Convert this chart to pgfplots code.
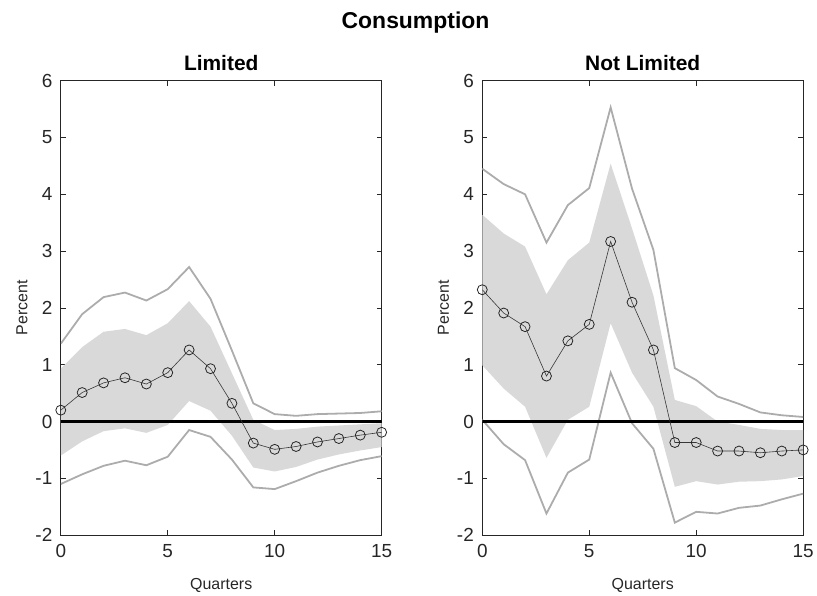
\documentclass[border=0pt]{standalone}
\usepackage{pgfplots}
\pgfplotsset{compat=1.18}
\usepackage{pgfplotstable}
\usepgfplotslibrary{fillbetween}
\usepackage{fontspec}
\setmainfont{Liberation Sans}

\definecolor{band}{RGB}{217,217,217}
\definecolor{outer}{RGB}{172,172,172}
\definecolor{axc}{RGB}{38,38,38}
\definecolor{mid}{RGB}{55,55,55}

% x: quarter, mid: point estimate, uo/lo: outer bands, ub/lb: shaded band
\pgfplotstableread{
x mid uo ub lb lo
0 0.20 1.37 0.93 -0.60 -1.10
1 0.51 1.89 1.31 -0.35 -0.93
2 0.68 2.19 1.58 -0.17 -0.78
3 0.77 2.27 1.63 -0.12 -0.69
4 0.66 2.13 1.52 -0.20 -0.77
5 0.86 2.33 1.73 -0.06 -0.62
6 1.26 2.72 2.12 0.36 -0.15
7 0.93 2.16 1.67 0.19 -0.27
8 0.32 1.25 0.85 -0.25 -0.67
9 -0.38 0.32 0.03 -0.81 -1.16
10 -0.49 0.13 -0.15 -0.88 -1.19
11 -0.44 0.10 -0.13 -0.80 -1.05
12 -0.36 0.13 -0.09 -0.67 -0.90
13 -0.30 0.14 -0.07 -0.58 -0.78
14 -0.24 0.15 -0.05 -0.51 -0.68
15 -0.19 0.18 -0.03 -0.45 -0.61
}\limited

\pgfplotstableread{
x mid uo ub lb lo
0 2.32 4.45 3.64 0.99 0.03
1 1.91 4.18 3.31 0.58 -0.40
2 1.67 4.00 3.08 0.26 -0.68
3 0.80 3.15 2.24 -0.64 -1.62
4 1.42 3.81 2.84 0.03 -0.90
5 1.71 4.11 3.15 0.26 -0.67
6 3.17 5.53 4.54 1.73 0.86
7 2.10 4.10 3.40 0.86 -0.03
8 1.26 3.02 2.22 0.26 -0.48
9 -0.37 0.94 0.38 -1.15 -1.78
10 -0.37 0.73 0.27 -1.05 -1.59
11 -0.52 0.44 0.00 -1.11 -1.62
12 -0.52 0.31 -0.06 -1.06 -1.52
13 -0.55 0.16 -0.13 -1.05 -1.48
14 -0.52 0.11 -0.15 -1.02 -1.37
15 -0.50 0.08 -0.15 -0.96 -1.27
}\notlimited

\pgfplotsset{irf/.style={
    scale only axis, width=322pt, height=456pt, anchor=south west,
    xmin=0, xmax=15, ymin=-2, ymax=6,
    xtick={0,5,10,15}, ytick={-2,-1,0,1,2,3,4,5,6},
    tick align=inside, major tick length=5pt,
    axis line style={axc, line width=0.8pt},
    every tick/.style={axc, line width=0.8pt},
    tick label style={font=\fontsize{19}{22}\selectfont, text=axc},
    x tick label style={yshift=-6pt},
    y tick label style={xshift=-5pt},
    /pgf/number format/assume math mode=true,
    xlabel=Quarters, ylabel=Percent,
    label style={font=\fontsize{16}{19}\selectfont, text=axc},
    x label style={at={(axis description cs:0.5,-0.11)}, anchor=center},
    y label style={at={(axis description cs:-0.121,0.5)}, anchor=center},
    title style={font=\bfseries\fontsize{21}{24}\selectfont, anchor=south, yshift=1pt},
}}

\begin{document}
\begin{tikzpicture}

\begin{axis}[irf, at={(61pt,58pt)}, title={Limited}]
  \addplot[name path=ubL, draw=none, forget plot] table[x=x, y=ub] {\limited};
  \addplot[name path=lbL, draw=none, forget plot] table[x=x, y=lb] {\limited};
  \addplot[band] fill between[of=ubL and lbL];
  \addplot[outer, line width=1.8pt] table[x=x, y=uo] {\limited};
  \addplot[outer, line width=1.8pt] table[x=x, y=lo] {\limited};
  \addplot[black, line width=2.2pt] coordinates {(0,0) (15,0)};
  \addplot[mid, line width=0.6pt, mark=o, mark size=5pt,
    mark options={line width=0.8pt, draw=axc}] table[x=x, y=mid] {\limited};
\end{axis}

\begin{axis}[irf, at={(484pt,58pt)}, title={Not Limited}]
  \addplot[name path=ubR, draw=none, forget plot] table[x=x, y=ub] {\notlimited};
  \addplot[name path=lbR, draw=none, forget plot] table[x=x, y=lb] {\notlimited};
  \addplot[band] fill between[of=ubR and lbR];
  \addplot[outer, line width=1.8pt] table[x=x, y=uo] {\notlimited};
  \addplot[outer, line width=1.8pt] table[x=x, y=lo] {\notlimited};
  \addplot[black, line width=2.2pt] coordinates {(0,0) (15,0)};
  \addplot[mid, line width=0.6pt, mark=o, mark size=5pt,
    mark options={line width=0.8pt, draw=axc}] table[x=x, y=mid] {\notlimited};
\end{axis}

\node[font=\bfseries\fontsize{23}{26}\selectfont, text=black] at (417pt,572pt) {Consumption};
\path (0pt,0pt) rectangle (817pt,595pt);
\end{tikzpicture}
\end{document}
